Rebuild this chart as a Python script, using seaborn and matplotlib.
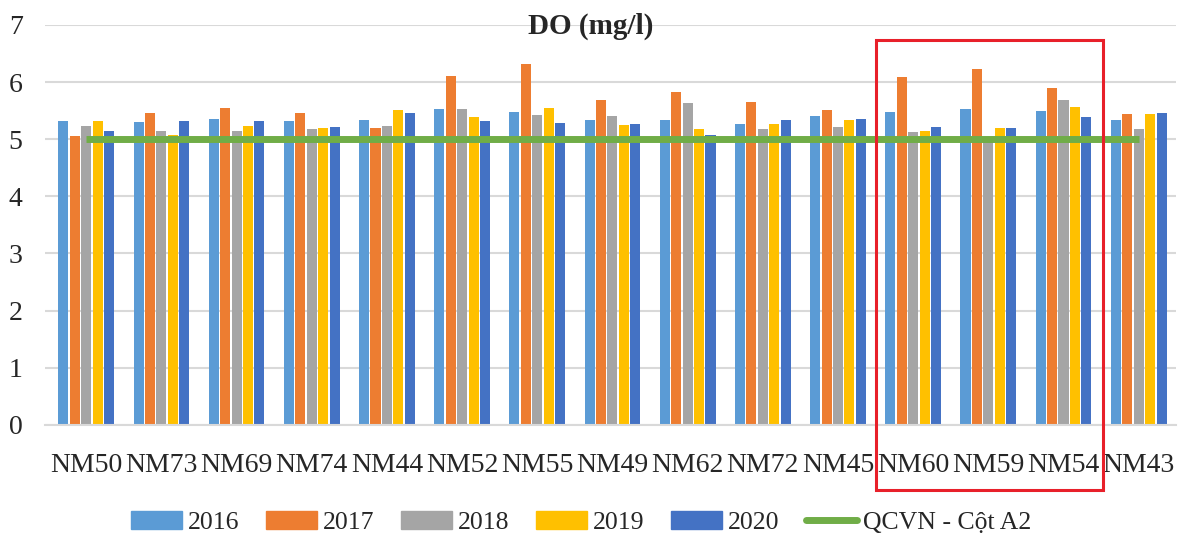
import matplotlib
matplotlib.use('Agg')
import matplotlib.pyplot as plt
import matplotlib.patches as mpatches
from matplotlib.lines import Line2D
import pandas as pd
import seaborn as sns

# station codes on the x axis
stations = ['NM50', 'NM73', 'NM69', 'NM74', 'NM44', 'NM52', 'NM55', 'NM49',
            'NM62', 'NM72', 'NM45', 'NM60', 'NM59', 'NM54', 'NM43']
years = ['2016', '2017', '2018', '2019', '2020']

# DO values (mg/l)
do_2016 = [5.32, 5.30, 5.35, 5.31, 5.33, 5.52, 5.47, 5.34, 5.34, 5.26, 5.40, 5.47, 5.53, 5.50, 5.33]
do_2017 = [5.05, 5.46, 5.54, 5.45, 5.20, 6.11, 6.32, 5.68, 5.83, 5.65, 5.51, 6.08, 6.23, 5.90, 5.44]
do_2018 = [5.23, 5.15, 5.15, 5.18, 5.23, 5.53, 5.43, 5.41, 5.63, 5.18, 5.22, 5.12, 5.00, 5.68, 5.18]
do_2019 = [5.32, 5.07, 5.23, 5.20, 5.51, 5.39, 5.54, 5.24, 5.17, 5.26, 5.33, 5.14, 5.20, 5.56, 5.44]
do_2020 = [5.15, 5.31, 5.32, 5.21, 5.45, 5.31, 5.28, 5.26, 5.08, 5.33, 5.36, 5.21, 5.20, 5.38, 5.46]
qcvn_a2 = [5] * len(stations)

colors = ['#5B9BD5', '#ED7D31', '#A5A5A5', '#FFC000', '#4472C4']
line_color = '#70AD47'

# long form table for seaborn
rows = []
for yr, vals in zip(years, [do_2016, do_2017, do_2018, do_2019, do_2020]):
    for st, v in zip(stations, vals):
        rows.append({'station': st, 'year': yr, 'DO': v})
df = pd.DataFrame(rows)

sns.set_style('white')
plt.rcParams['font.family'] = ['Liberation Serif', 'DejaVu Serif']

fig = plt.figure(figsize=(11.81, 5.4), dpi=100)
ax = fig.add_axes([0.038, 0.213, 0.958, 0.741])

sns.barplot(data=df, x='station', y='DO', hue='year', palette=colors,
            width=0.76, gap=0.12, ax=ax, legend=False, saturation=1, linewidth=0)
ax.plot(range(len(stations)), qcvn_a2, color=line_color, lw=5, solid_capstyle='butt')

ax.set_ylim(0, 7)
ax.set_xlim(-0.55, len(stations) - 0.5)
ax.set_yticks(range(0, 8))
ax.yaxis.grid(True, color='#D9D9D9', lw=1.5)
ax.set_axisbelow(True)
for s in ['top', 'right', 'left']:
    ax.spines[s].set_visible(False)
ax.spines['bottom'].set_color('#D9D9D9')
ax.spines['bottom'].set_linewidth(1.5)
ax.tick_params(axis='both', length=0, labelsize=20)
ax.tick_params(axis='x', pad=20)
ax.tick_params(axis='y', pad=16)
ax.set_xlabel('')
ax.set_ylabel('')

fig.text(0.5, 0.952, 'DO (mg/l)', ha='center', va='center', fontsize=21, fontweight='bold')

# red box highlighting NM60 - NM54
fig.patches.append(mpatches.Rectangle((876 / 1181, 1 - 490 / 540), 227 / 1181, 450 / 540,
                                      transform=fig.transFigure, fill=False,
                                      edgecolor='#E8202A', lw=2.2))

handles = [mpatches.Patch(color=c, label=y) for c, y in zip(colors, years)]
handles.append(Line2D([0], [0], color=line_color, lw=5, label='QCVN - Cột A2'))
fig.legend(handles=handles, loc='center', bbox_to_anchor=(0.492, 0.033), ncol=6,
           frameon=False, fontsize=18.5, handlelength=2.0, handleheight=0.7,
           columnspacing=1.0, handletextpad=0.25)

fig.savefig('out.png', dpi=100)
